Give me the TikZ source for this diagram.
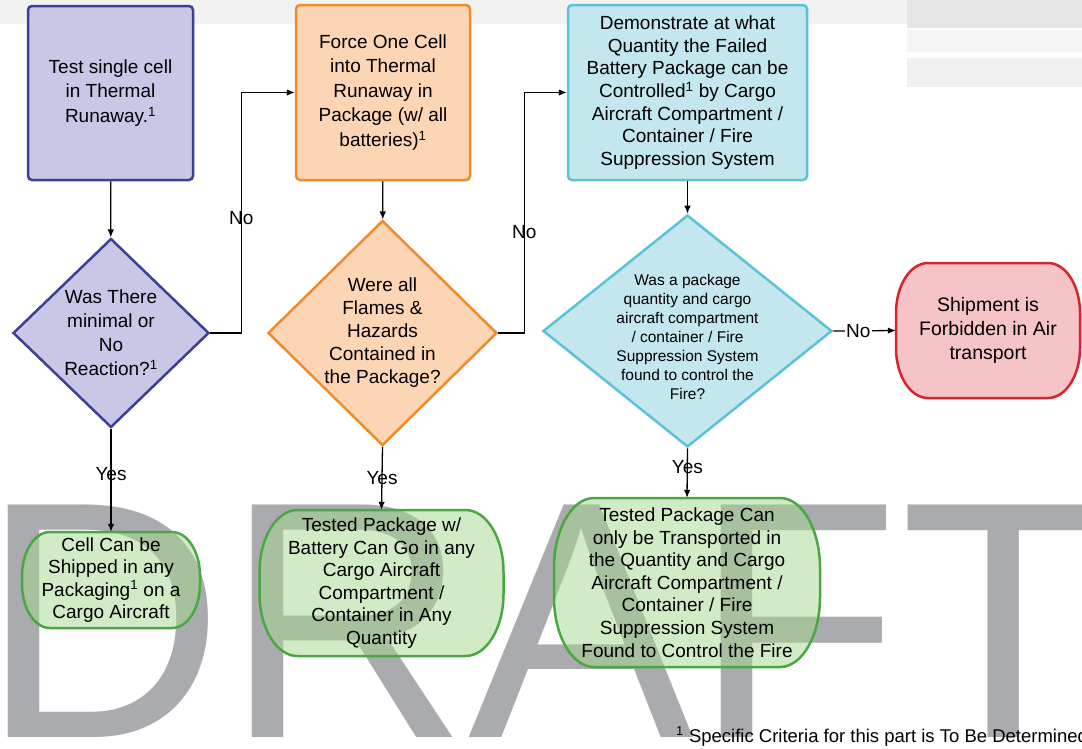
\documentclass[tikz,border=0pt]{standalone}
\usepackage{fontspec}
\setmainfont{Liberation Sans}
\usetikzlibrary{shapes.geometric,arrows.meta}

\definecolor{purpleFill}{HTML}{C9C7E6}
\definecolor{purpleLine}{HTML}{3C3F97}
\definecolor{orangeFill}{HTML}{FCD6B4}
\definecolor{orangeLine}{HTML}{F08A2A}
\definecolor{cyanFill}{HTML}{C3E6EF}
\definecolor{cyanLine}{HTML}{5CC2D8}
\definecolor{redFill}{HTML}{F6C3C6}
\definecolor{redLine}{HTML}{D8232B}
\definecolor{greenFill}{HTML}{A6D88F}
\definecolor{greenLine}{HTML}{4AA843}
\definecolor{draftGray}{HTML}{AAABAF}

% center x, center y, width, height, x radius, y radius, style
\newcommand{\capsule}[7]{%
    \path[#7] ({#1-#3/2+#5},{#2-#4/2}) -- ({#1+#3/2-#5},{#2-#4/2})
        arc[start angle=90, end angle=0, x radius=#5pt, y radius=#6pt]
        -- ({#1+#3/2},{#2+#4/2-#6})
        arc[start angle=0, end angle=-90, x radius=#5pt, y radius=#6pt]
        -- ({#1-#3/2+#5},{#2+#4/2})
        arc[start angle=-90, end angle=-180, x radius=#5pt, y radius=#6pt]
        -- ({#1-#3/2},{#2-#4/2+#6})
        arc[start angle=180, end angle=90, x radius=#5pt, y radius=#6pt] -- cycle;}

\tikzset{
    txt/.style={font=\fontsize{19}{24.5}\selectfont, align=center, inner sep=0pt},
    stepbox/.style={txt, draw, line width=2.5pt, rounded corners=4pt},
    decision/.style={diamond, draw, line width=2.5pt, inner sep=0pt},
    okline/.style={draw=greenLine, line width=2.5pt, fill=greenFill, fill opacity=0.5},
    noline/.style={draw=redLine, line width=2.5pt, fill=redFill},
    conn/.style={-{Latex[length=8pt,width=6.5pt]}, line width=1.3pt},
    lbl/.style={txt, font=\fontsize{19}{22}\selectfont},
}

\begin{document}
\begin{tikzpicture}[x=1pt,y=-1pt]
    \useasboundingbox (0,0) rectangle (1082,748);
    \clip (0,0) rectangle (1082,748);

    \fill[black!5] (0,0) rectangle (907,24);
    \fill[black!10] (907,0) rectangle (1082,28);
    \fill[black!4] (907,30) rectangle (1082,52);
    \fill[black!6] (907,58) rectangle (1082,87);

    \node[anchor=base west, inner sep=0pt, text=draftGray, font=\fontsize{338}{338}\selectfont] (draft) at (-20,737) {DRAFT};

    \node[stepbox, draw=purpleLine, fill=purpleFill, minimum width=165pt, minimum height=174pt] (test) at (110.5,93)
        {Test single cell\\in Thermal\\Runaway.\textsuperscript{1}};
    \node[stepbox, draw=orangeLine, fill=orangeFill, minimum width=174pt, minimum height=175pt] (force) at (383,92.5)
        {Force One Cell\\into Thermal\\Runaway in\\Package (w/ all\\batteries)\textsuperscript{1}};
    \node[stepbox, draw=cyanLine, fill=cyanFill, minimum width=239pt, minimum height=175pt,
          font=\fontsize{19}{22.7}\selectfont] (demo) at (687.5,92.5)
        {Demonstrate at what\\Quantity the Failed\\Battery Package can be\\Controlled\textsuperscript{1} by Cargo\\Aircraft Compartment /\\Container / Fire\\Suppression System};

    \node[decision, draw=purpleLine, fill=purpleFill, minimum width=196pt, minimum height=189pt] (reaction) at (111,333) {};
    \node[txt, font=\fontsize{19}{24}\selectfont] (reactionText) at (111,333)
        {Was There\\minimal or\\No\\Reaction?\textsuperscript{1}};
    \node[decision, draw=orangeLine, fill=orangeFill, minimum width=229pt, minimum height=225pt] (contained) at (382.5,333) {};
    \node[txt, font=\fontsize{19}{23}\selectfont] (containedText) at (382.5,333)
        {Were all\\Flames \&\\Hazards\\Contained in\\the Package?};
    \node[decision, draw=cyanLine, fill=cyanFill, minimum width=289pt, minimum height=232pt] (control) at (687.5,331) {};
    \node[txt, font=\fontsize{15.5}{19}\selectfont] (controlText) at (687.5,337)
        {Was a package\\quantity and cargo\\aircraft compartment\\/ container / Fire\\Suppression System\\found to control the\\Fire?};

    \capsule{988}{330.5}{184}{135}{32}{50}{noline}
    \node[txt, minimum width=184pt, minimum height=135pt, font=\fontsize{19.5}{24}\selectfont] (forbidden) at (988,330.5)
        {Shipment is\\Forbidden in Air\\transport};

    \capsule{111}{580}{178}{96}{28}{44}{okline}
    \node[txt, minimum width=178pt, minimum height=96pt, font=\fontsize{19}{22.5}\selectfont] (cellShip) at (111,580)
        {Cell Can be\\Shipped in any\\Packaging\textsuperscript{1} on a\\Cargo Aircraft};
    \capsule{381.5}{583}{244}{146}{38}{62}{okline}
    \node[txt, minimum width=244pt, minimum height=146pt, font=\fontsize{19}{22.6}\selectfont] (anyQty) at (381.5,583)
        {Tested Package w/\\Battery Can Go in any\\Cargo Aircraft\\Compartment /\\Container in Any\\Quantity};
    \capsule{687}{582.5}{266}{169}{40}{70}{okline}
    \node[txt, minimum width=266pt, minimum height=169pt, font=\fontsize{19}{22.6}\selectfont] (limitQty) at (687,582.5)
        {Tested Package Can\\only be Transported in\\the Quantity and Cargo\\Aircraft Compartment /\\Container / Fire\\Suppression System\\Found to Control the Fire};

    \draw[conn] (test) -- (reaction);
    \draw[conn] (force) -- (contained);
    \draw[conn] (demo) -- (control);

    \draw[conn] (reaction.east) -- ++(31,0) |- node[lbl, pos=0.24] {No} (force.west);
    \draw[conn] (contained.east) -- ++(26,0) |- node[lbl, pos=0.21] {No} (demo.west);
    \draw[conn] (control.east) -- node[lbl, pos=0.4, fill=white, inner sep=1.5pt] {No} (forbidden.west);

    \draw[conn] (reaction.south) -- node[lbl, pos=0.44] {Yes} (cellShip.north);
    \draw[conn] (contained.south) -- node[lbl, pos=0.49] {Yes} (anyQty.north);
    \draw[conn] (control.south) -- node[lbl, pos=0.37] {Yes} (limitQty.north);

    \node[anchor=base west, inner sep=0pt, font=\fontsize{18.5}{20}\selectfont] (note) at (676,742)
        {\textsuperscript{1} Specific Criteria for this part is To Be Determined};
\end{tikzpicture}
\end{document}
